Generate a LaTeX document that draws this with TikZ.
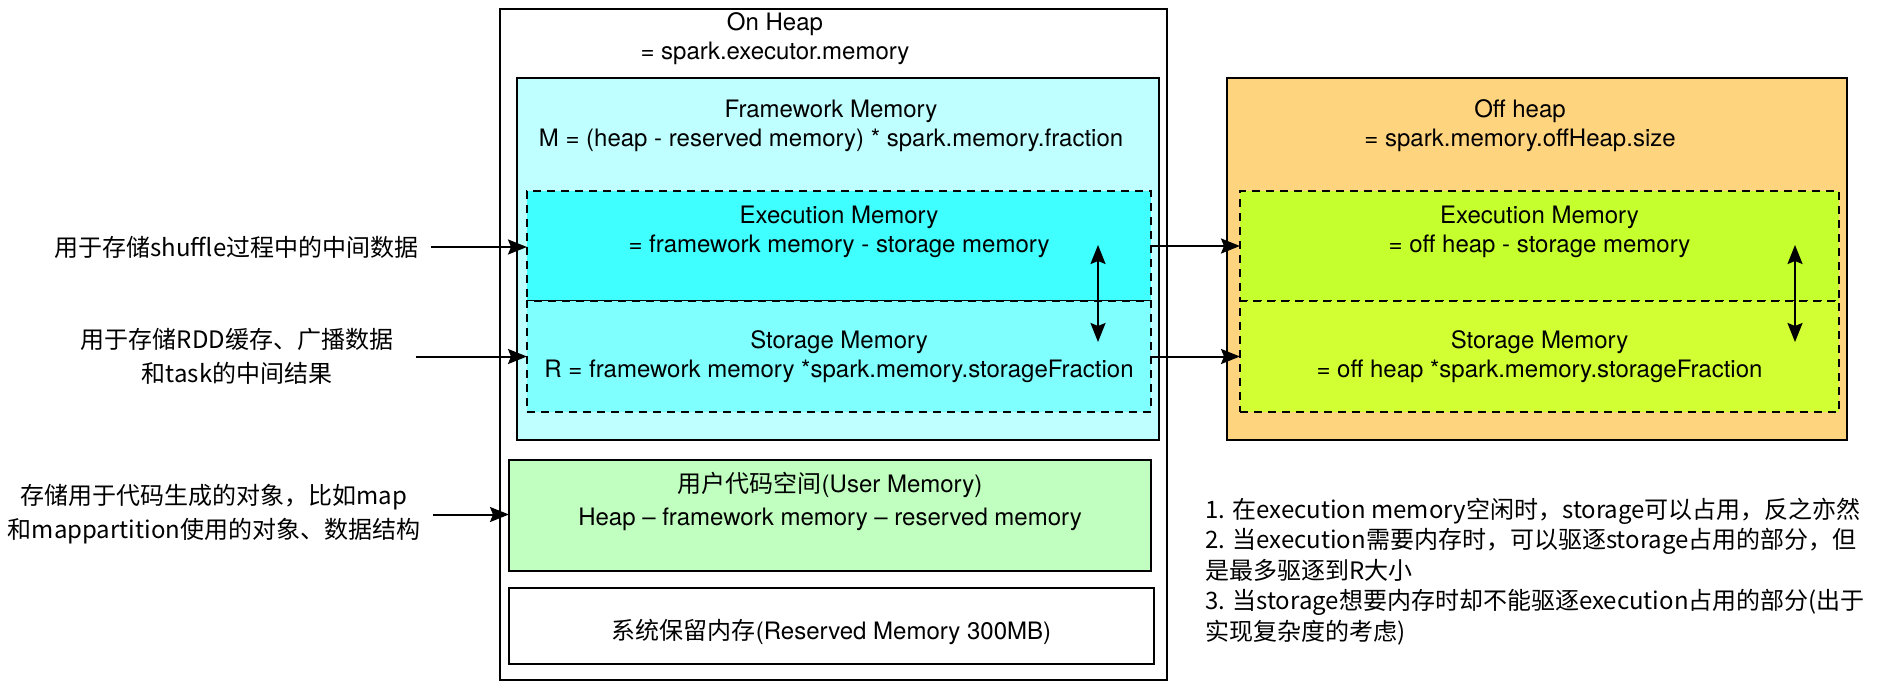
\documentclass[tikz,border=0pt]{standalone}
\usepackage{fontspec}
\setmainfont{TeX Gyre Heros}
\newfontfamily\cjk{Noto Sans CJK SC}
\usetikzlibrary{positioning,arrows.meta}

\definecolor{framecol}{HTML}{C0FFFF}
\definecolor{execcol}{HTML}{40FFFF}
\definecolor{storcol}{HTML}{80FFFF}
\definecolor{usercol}{HTML}{C0FFC0}
\definecolor{offcol}{HTML}{FFD47F}
\definecolor{offexeccol}{HTML}{C6FF2E}
\definecolor{offstorcol}{HTML}{D2FF33}

\tikzset{
  memframe/.style={draw, line width=1pt, inner sep=0pt, outer sep=0pt},
  memsplit/.style={draw, line width=1pt, dash pattern=on 4pt off 3pt, inner sep=0pt, outer sep=0pt},
  memtext/.style={align=center, inner sep=0pt, font=\fontsize{12}{14.5}\selectfont},
  zhtext/.style={align=center, inner sep=6pt, font=\cjk\fontsize{12}{17}\selectfont},
  arr/.style={-{Stealth[length=9.5pt,width=7.5pt,inset=1.5pt]}, line width=1pt},
  swaparr/.style={{Stealth[length=9.5pt,width=7.5pt,inset=1.5pt]}-{Stealth[length=9.5pt,width=7.5pt,inset=1.5pt]}, line width=1pt}
}

\begin{document}
\begin{tikzpicture}[x=0.5pt, y=-0.5pt]
\path[use as bounding box, fill=white] (0,0) rectangle (1884,684);

% on heap
\node[memframe, minimum width=333.5pt, minimum height=335.5pt] (onheap) at (833.5,344.5) {};
\node[memtext] (onheaptitle) at ([xshift=-29.25pt, yshift=-15pt]onheap.north) {On Heap\\= spark.executor.memory};

\node[memframe, fill=framecol, minimum width=321pt, minimum height=181pt] (frame) at (838,259) {};
\node[memtext] (frametitle) at ([xshift=-3.5pt, yshift=-23.75pt]frame.north) {Framework Memory\\M = (heap - reserved memory) * spark.memory.fraction};

\node[memsplit, fill=execcol, minimum width=312pt, minimum height=55pt] (exec) at (839,246) {};
\node[memsplit, fill=storcol, minimum width=312pt, minimum height=55.5pt, below=0pt of exec] (stor) {};
\node[memtext] (exectext) at ([yshift=-20.5pt]exec.north) {Execution Memory\\= framework memory - storage memory};
\node[memtext] (stortext) at (stor) {Storage Memory\\R = framework memory *spark.memory.storageFraction};

\node[memframe, fill=usercol, minimum width=321pt, minimum height=55.5pt] (user) at (830,515.5) {};
\node[memtext, font=\fontsize{12}{16.5}\selectfont] (usertext) at ([yshift=-20.75pt]user.north) {{\cjk 用户代码空间}(User Memory)\\Heap – framework memory – reserved memory};

\node[memframe, minimum width=322.5pt, minimum height=38pt] (resv) at (831.5,626) {};
\node[memtext] (resvtext) at ([yshift=-3pt]resv) {{\cjk 系统保留内存}(Reserved Memory 300MB)};

% off heap
\node[memframe, fill=offcol, minimum width=310pt, minimum height=181pt] (offheap) at (1537,259) {};
\node[memtext] (offheaptitle) at ([xshift=-8.5pt, yshift=-24pt]offheap.north) {Off heap\\= spark.memory.offHeap.size};

\node[memsplit, fill=offexeccol, minimum width=299.5pt, minimum height=55pt] (offexec) at (1539.5,246) {};
\node[memsplit, fill=offstorcol, minimum width=299.5pt, minimum height=55.5pt, below=0pt of offexec] (offstor) {};
\node[memtext] (offexectext) at ([yshift=-20.5pt]offexec.north) {Execution Memory\\= off heap - storage memory};
\node[memtext] (offstortext) at (offstor) {Storage Memory\\= off heap *spark.memory.storageFraction};

% notes on the left
\node[zhtext] (shufflenote) at (236.5,247) {用于存储shuffle过程中的中间数据};
\node[zhtext] (cachenote) at (237,356.5) {用于存储RDD缓存、广播数据\\和task的中间结果};
\node[zhtext] (usernote) at (214,514.5) {存储用于代码生成的对象，比如map\\和mappartition使用的对象、数据结构};

\draw[arr] (shufflenote.east) -- (shufflenote.east -| exec.west);
\draw[arr] ([xshift=5pt]cachenote.east) -- (cachenote.east -| stor.west);
\draw[arr] (usernote.east) -- (usernote.east -| user.west);
\draw[arr] (exec.east) -- (offexec.west);
\draw[arr] (stor.east) -- (offstor.west);

% execution <-> storage
\coordinate (onswaptop) at (1098,245);
\coordinate (onswapbot) at (1098,342);
\draw[swaparr] (onswaptop) -- (onswapbot);
\coordinate (offswaptop) at (1795,245);
\coordinate (offswapbot) at (1795,342);
\draw[swaparr] (offswaptop) -- (offswapbot);

\node[zhtext, align=left, anchor=west, inner sep=0pt, font=\cjk\fontsize{12}{15.2}\selectfont] (rules) at (1205,571.5) {1. 在execution memory空闲时，storage可以占用，反之亦然\\2. 当execution需要内存时，可以驱逐storage占用的部分，但\\是最多驱逐到R大小\\3. 当storage想要内存时却不能驱逐execution占用的部分(出于\\实现复杂度的考虑)};
\end{tikzpicture}
\end{document}
